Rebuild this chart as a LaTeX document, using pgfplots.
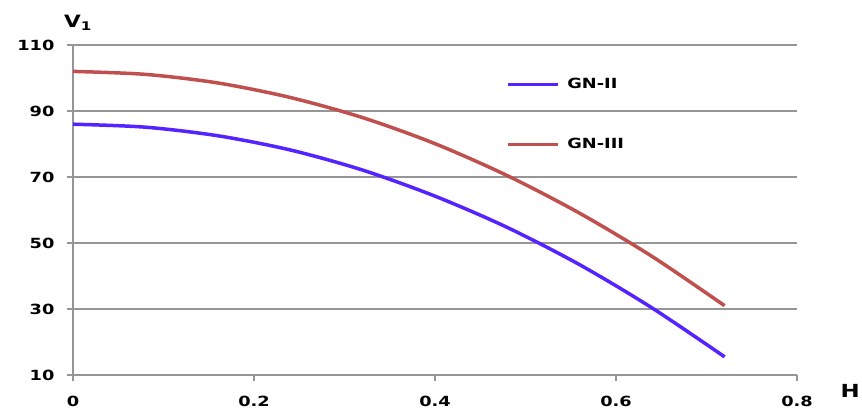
\documentclass[border=0pt]{standalone}
\usepackage{fontspec}
\setmainfont[FakeStretch=1.27]{DejaVu Sans}
\usepackage{pgfplots}
\pgfplotsset{compat=1.18}
\definecolor{gnblue}{RGB}{85,35,255}
\definecolor{gnred}{RGB}{192,80,77}
\definecolor{gridgray}{RGB}{150,150,150}
\begin{document}
\begin{tikzpicture}
\path[use as bounding box] (-73pt,-41pt) rectangle (789pt,375pt);
\begin{axis}[
  at={(0,0)}, anchor=south west,
  width=724pt, height=330pt, scale only axis,
  xmin=0, xmax=0.8, ymin=10, ymax=110,
  xtick={0,0.2,0.4,0.6,0.8},
  ytick={10,30,50,70,90,110},
  xticklabels={0,0.2,0.4,0.6,0.8},
  axis x line*=bottom, axis y line*=left,
  axis line style={-, gridgray, line width=1.2pt},
  ymajorgrids, grid style={gridgray, line width=1.2pt},
  tick align=outside,
  major tick length=6pt,
  tick style={gridgray, line width=1.2pt},
  /pgf/number format/assume math mode=true,
  tick label style={font=\bfseries\fontsize{14}{14}\selectfont, text=black},
  yticklabel style={xshift=-9pt},
  xticklabel style={yshift=-12pt},
  xlabel={H},
  xlabel style={at={(rel axis cs:1,0)}, anchor=west, xshift=40pt, yshift=-16pt, font=\bfseries\fontsize{18}{18}\selectfont},
  ylabel={V\textsubscript{1}},
  ylabel style={at={(rel axis cs:0,1)}, anchor=south, rotate=-90, xshift=5pt, yshift=11pt, font=\bfseries\fontsize{17}{17}\selectfont},
  legend style={at={(rel axis cs:0.599,0.905)}, anchor=north west, draw=none, fill=none,
    font=\bfseries\fontsize{14}{14}\selectfont, row sep=44pt, column sep=6pt, inner sep=0pt},
  legend cell align=left,
  legend image code/.code={\draw[#1, line width=2.5pt] (0pt,0pt) -- (50pt,0pt);},
]
\addplot[gnblue, line width=3.5pt, smooth] coordinates {
 (0,86.0) (0.08,85.1) (0.16,82.5) (0.24,78.2) (0.32,72.1) (0.40,64.2)
 (0.48,54.7) (0.56,43.4) (0.64,30.3) (0.72,15.5)};
\addlegendentry{GN-II}
\addplot[gnred, line width=3.5pt, smooth] coordinates {
 (0,102.0) (0.08,101.1) (0.16,98.5) (0.24,94.1) (0.32,88.0) (0.40,80.1)
 (0.48,70.4) (0.56,59.0) (0.64,45.9) (0.72,31.0)};
\addlegendentry{GN-III}
\end{axis}
\end{tikzpicture}
\end{document}
